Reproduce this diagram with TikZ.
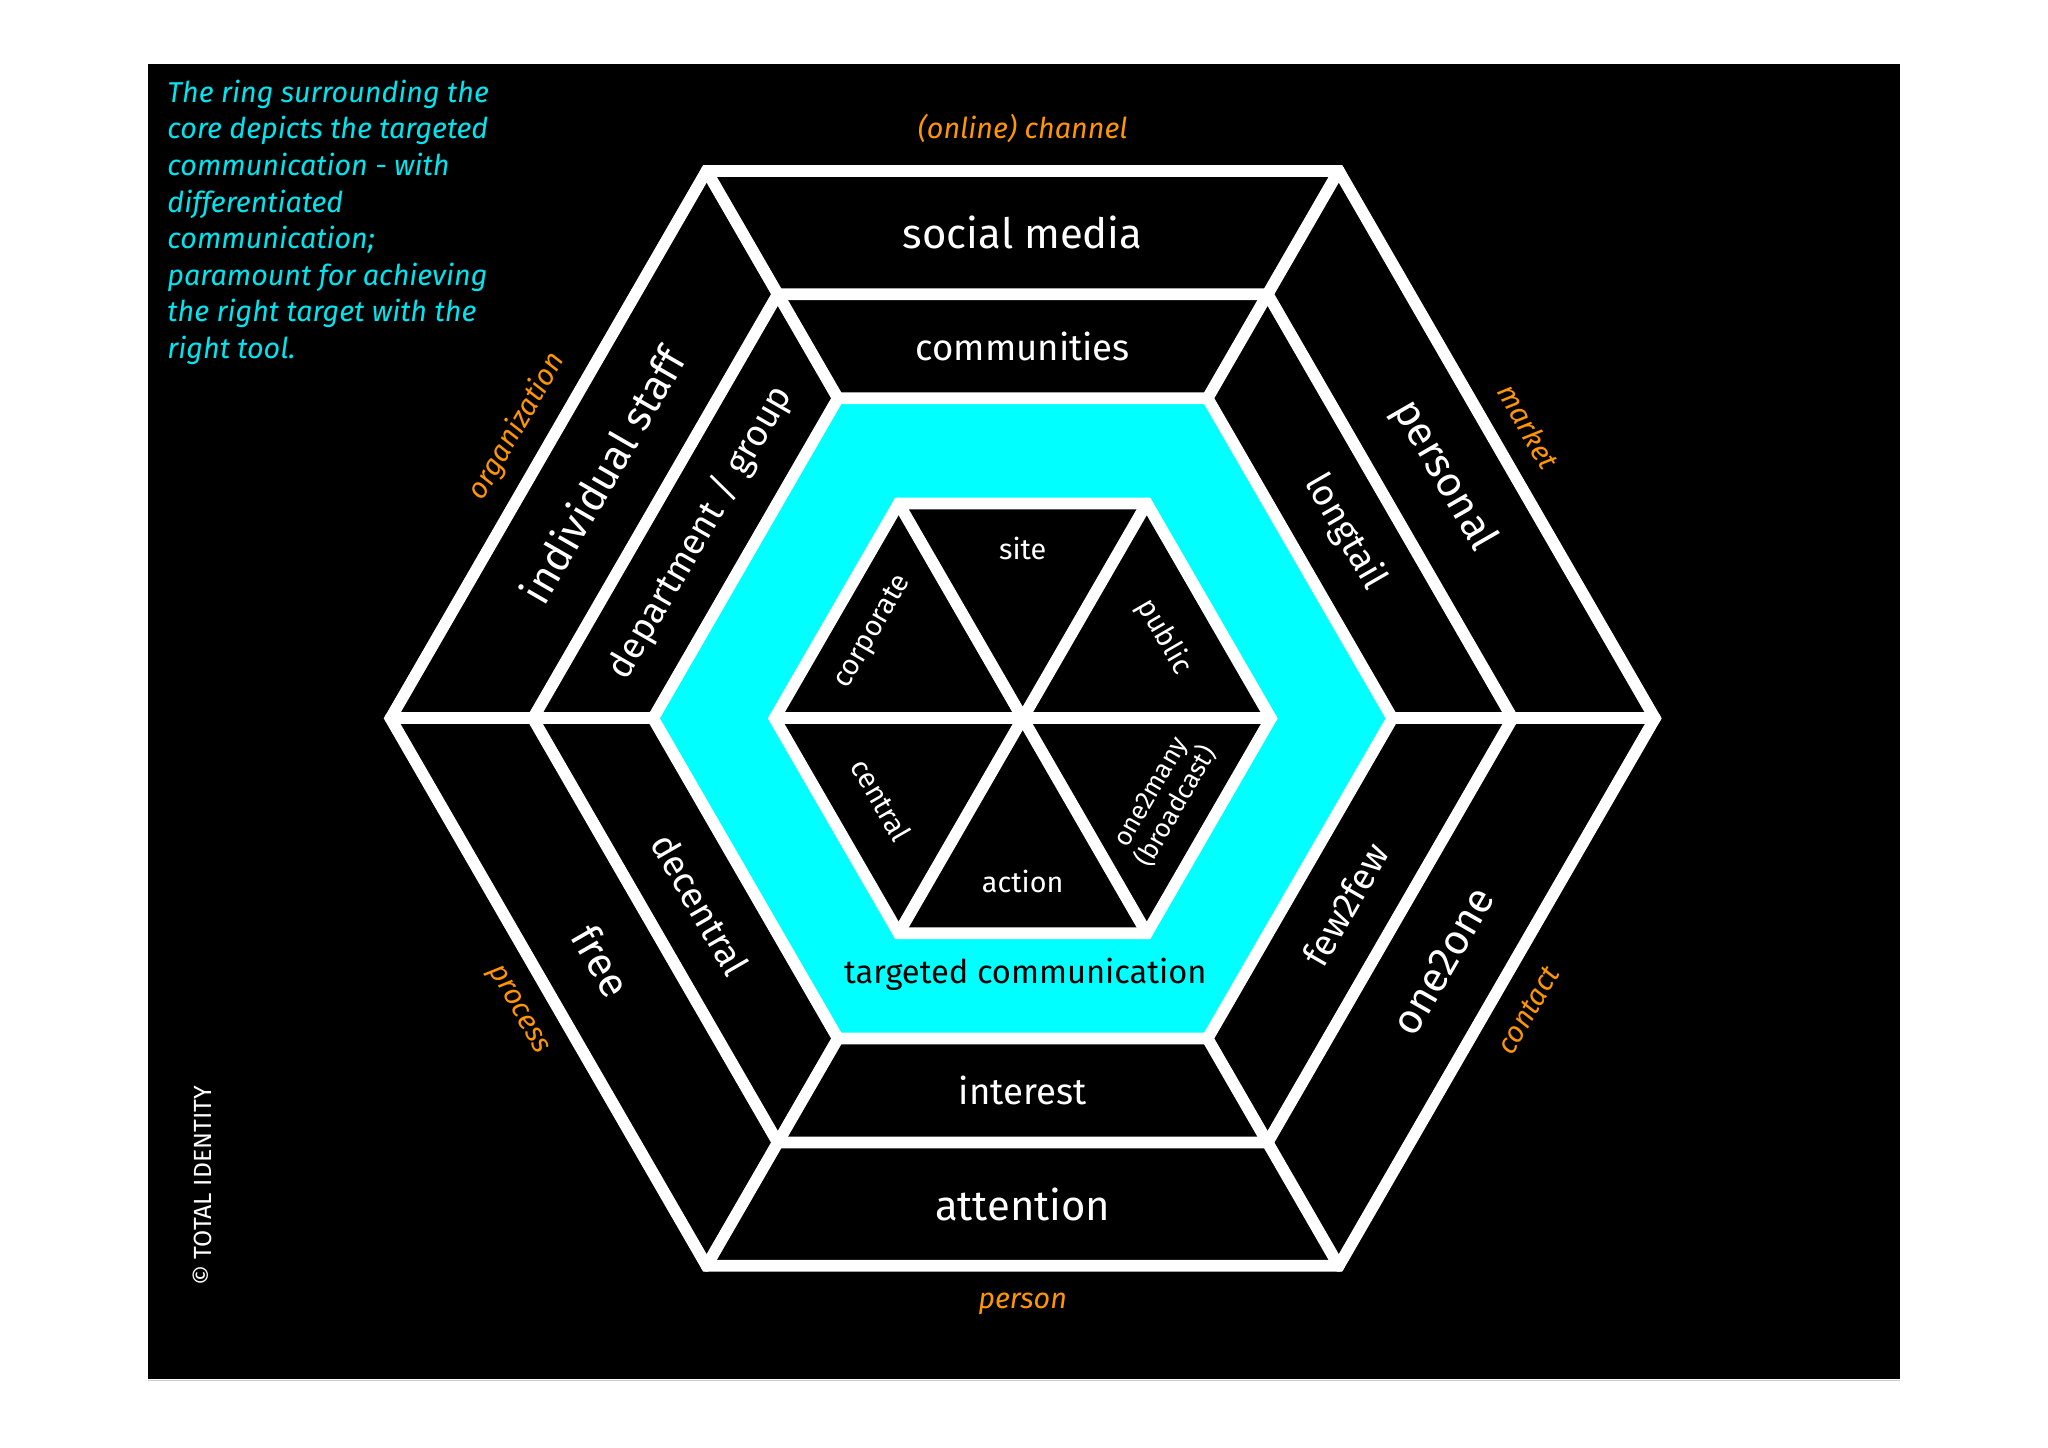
\documentclass[tikz,border=0pt]{standalone}
\usepackage{fontspec}
\setmainfont{Fira Sans}
\definecolor{aqua}{RGB}{0,255,255}
\definecolor{aquat}{RGB}{0,230,240}
\definecolor{org}{RGB}{255,150,0}
\begin{document}
\begin{tikzpicture}[x=1pt,y=1pt,
  wl/.style={draw=white,line width=9pt,line join=miter,line cap=round},
  ringa/.style={text=white,font=\fontsize{32}{38}\selectfont},
  ringb/.style={text=white,font=\fontsize{28}{34}\selectfont},
  inner/.style={text=white,font=\fontsize{22}{24}\selectfont,align=center},
  orange/.style={text=org,font=\itshape\fontsize{22}{26}\selectfont}]
\useasboundingbox (0,0) rectangle (1568,1108);
\fill[white] (0,0) rectangle (1568,1108);
\fill[black] (113,52) rectangle (1455,1059);
\draw[gray!40,line width=1pt] (113,51) -- (1455,51);
\begin{scope}[shift={(783,558)}]
  \fill[aqua] (0:283) -- (60:283) -- (120:283) -- (180:283) -- (240:283) -- (300:283) -- cycle;
  \fill[black] (0:190) -- (60:190) -- (120:190) -- (180:190) -- (240:190) -- (300:190) -- cycle;
  \foreach \r in {484,375,283,190}
    \draw[wl] (0:\r) -- (60:\r) -- (120:\r) -- (180:\r) -- (240:\r) -- (300:\r) -- cycle;
  \foreach \a in {0,60,...,300} \draw[wl] (\a:283) -- (\a:484);
  \foreach \a in {0,60,120} \draw[wl] (\a:190) -- (\a+180:190);
  % outer ring
  \node[ringa] (sm) at (90:372) {social media};
  \node[ringa,rotate=-60] (pe) at (30:372) {personal};
  \node[ringa,rotate=60] (oo) at (-30:372) {one2one};
  \node[ringa] (at) at (-90:372) {attention};
  \node[ringa,rotate=-60] (fr) at (-150:372) {free};
  \node[ringa,rotate=60] (is) at (150:372) {individual staff};
  % second ring
  \node[ringb] (co) at (90:285) {communities};
  \node[ringb,rotate=-60] (lt) at (30:285) {longtail};
  \node[ringb,rotate=60] (ff) at (-30:285) {few2few};
  \node[ringb] (in) at (-90:285) {interest};
  \node[ringb,rotate=-60] (de) at (-150:285) {decentral};
  \node[ringb,rotate=60] (dg) at (150:285) {department / group};
  % inner triangles
  \node[inner] (si) at (90:130) {site};
  \node[inner,rotate=-60] (pu) at (30:125) {public};
  \node[inner,rotate=60,font=\fontsize{20}{21}\selectfont] (om) at (-30:125) {one2many\\(broadcast)};
  \node[inner] (ac) at (-90:125) {action};
  \node[inner,rotate=-60] (ce) at (-150:125) {central};
  \node[inner,rotate=60] (cp) at (150:132) {corporate};
  \node[text=black,font=\fontsize{25}{30}\selectfont] (tc) at (2,-196) {targeted communication};
  % orange labels
  \node[orange] (ch) at (90:452) {(online) channel};
  \node[orange,rotate=-60] (ma) at (30:447) {market};
  \node[orange,rotate=60] (ct) at (-30:447) {contact};
  \node[orange] (ps) at (-90:448) {person};
  \node[orange,rotate=-60] (pr) at (-150:447) {process};
  \node[orange,rotate=60] (or) at (150:447) {organization};
\end{scope}
\node[anchor=north west,text=aquat,align=left,font=\itshape\fontsize{22}{28}\selectfont,inner sep=0pt] (txt) at (128,1047)
 {The ring surrounding the\\core depicts the targeted\\communication - with\\differentiated\\communication;\\paramount for achieving\\the right target with the\\right tool.};
\node[text=white,rotate=90,font=\fontsize{19}{22}\selectfont] (cr) at (155,200) {© TOTAL IDENTITY};
\end{tikzpicture}
\end{document}
